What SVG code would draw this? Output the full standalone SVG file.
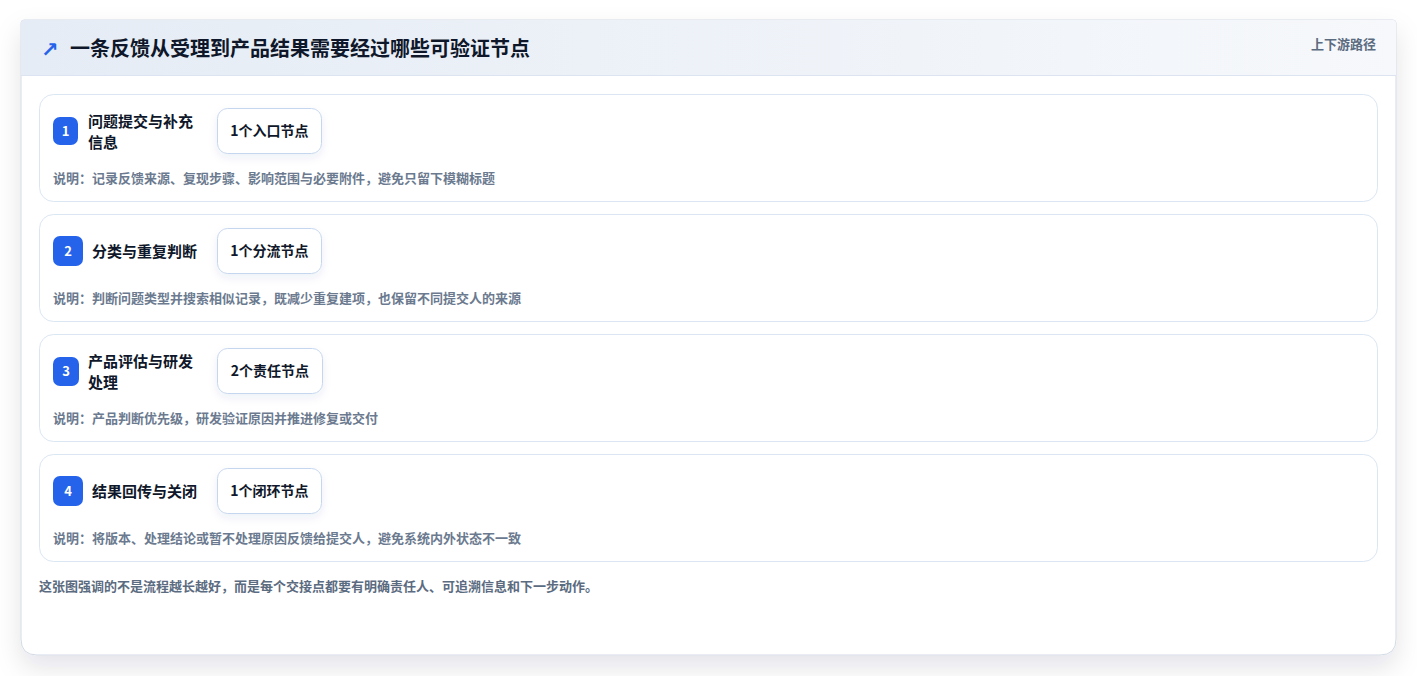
<svg xmlns="http://www.w3.org/2000/svg" width="1417" height="676" viewBox="0 0 1417 676">
<defs>
<linearGradient id="hdr" x1="0" y1="0" x2="1" y2="0">
<stop offset="0" stop-color="#e5ecf5"/>
<stop offset="1" stop-color="#f6f8fb"/>
</linearGradient>
<filter id="cardShadow" x="-5%" y="-8%" width="110%" height="125%">
<feDropShadow dx="0" dy="12" stdDeviation="13" flood-color="#0f172a" flood-opacity="0.11"/>
</filter>
<filter id="pillShadow" x="-20%" y="-30%" width="140%" height="170%">
<feDropShadow dx="0" dy="4" stdDeviation="4" flood-color="#1e3a8a" flood-opacity="0.07"/>
</filter>
</defs>
<style>
text{font-family:"Noto Sans CJK SC","Noto Sans",sans-serif}
.title{font-size:20px;font-weight:700;fill:#0f172a}
.tag{font-size:13px;font-weight:600;fill:#5b6b80}
.row{fill:#ffffff;stroke:#dbe6f3;stroke-width:1}
.badge{fill:#2563eb}
.num{font-size:13px;font-weight:700;fill:#ffffff;text-anchor:middle}
.rt{font-size:15px;font-weight:700;fill:#0f172a}
.pill{fill:#ffffff;stroke:#c5d7ee;stroke-width:1}
.pt{font-size:14px;font-weight:700;fill:#0f172a;text-anchor:middle}
.desc{font-size:13px;font-weight:600;fill:#6b7a8f}
.foot{font-size:13px;font-weight:600;fill:#5b6b80}
</style>
<rect width="1417" height="676" fill="#ffffff"/>
<g id="card">
<path d="M24 20 H1393 Q1396 20 1396 23 V639 Q1396 655 1380 655 H37 Q21 655 21 639 V23 Q21 20 24 20 Z" fill="#ffffff" stroke="#d3dbe6" stroke-width="1" filter="url(#cardShadow)"/>
<path d="M24 20 H1393 Q1396 20 1396 23 V75 H21 V23 Q21 20 24 20 Z" fill="url(#hdr)"/>
<line x1="21" y1="75.5" x2="1396" y2="75.5" stroke="#dbe4f0" stroke-width="1"/>
<text x="41" y="57" font-size="21" font-weight="700" fill="#2563eb" style="font-family:'DejaVu Sans',sans-serif">↗</text>
<text class="title" x="70" y="56">一条反馈从受理到产品结果需要经过哪些可验证节点</text>
<text class="tag" x="1376" y="49" text-anchor="end">上下游路径</text>
</g>
<g id="connectors"></g>
<g id="step1">
<rect class="row" x="39.5" y="94.5" width="1338" height="107" rx="14"/>
<rect class="badge" x="53" y="117" width="25" height="28" rx="7"/>
<text class="num" x="65.5" y="135.5">1</text>
<text class="rt" x="88" y="126.5">问题提交与补充</text>
<text class="rt" x="88" y="147.5">信息</text>
<rect class="pill" x="217.5" y="108.5" width="104" height="45" rx="10" filter="url(#pillShadow)"/>
<text class="pt" x="269.5" y="135.5">1个入口节点</text>
<text class="desc" x="53" y="182.5">说明：记录反馈来源、复现步骤、影响范围与必要附件，避免只留下模糊标题</text>
</g>
<g id="step2">
<rect class="row" x="39.5" y="214.5" width="1338" height="107" rx="14"/>
<rect class="badge" x="53" y="236" width="30" height="30" rx="7"/>
<text class="num" x="68" y="255.5">2</text>
<text class="rt" x="92" y="257">分类与重复判断</text>
<rect class="pill" x="217.5" y="228.5" width="104" height="45" rx="10" filter="url(#pillShadow)"/>
<text class="pt" x="269.5" y="255.5">1个分流节点</text>
<text class="desc" x="53" y="302.5">说明：判断问题类型并搜索相似记录，既减少重复建项，也保留不同提交人的来源</text>
</g>
<g id="step3">
<rect class="row" x="39.5" y="334.5" width="1338" height="107" rx="14"/>
<rect class="badge" x="53" y="357" width="26" height="29" rx="7"/>
<text class="num" x="66" y="375.5">3</text>
<text class="rt" x="88" y="366.5">产品评估与研发</text>
<text class="rt" x="88" y="387.5">处理</text>
<rect class="pill" x="217.5" y="348.5" width="105" height="45" rx="10" filter="url(#pillShadow)"/>
<text class="pt" x="270" y="375.5">2个责任节点</text>
<text class="desc" x="53" y="422.5">说明：产品判断优先级，研发验证原因并推进修复或交付</text>
</g>
<g id="step4">
<rect class="row" x="39.5" y="454.5" width="1338" height="107" rx="14"/>
<rect class="badge" x="53" y="476" width="30" height="30" rx="7"/>
<text class="num" x="68" y="495.5">4</text>
<text class="rt" x="92" y="497">结果回传与关闭</text>
<rect class="pill" x="217.5" y="468.5" width="104" height="45" rx="10" filter="url(#pillShadow)"/>
<text class="pt" x="269.5" y="495.5">1个闭环节点</text>
<text class="desc" x="53" y="542.5">说明：将版本、处理结论或暂不处理原因反馈给提交人，避免系统内外状态不一致</text>
</g>
<g id="footer">
<text class="foot" x="39" y="590.5">这张图强调的不是流程越长越好，而是每个交接点都要有明确责任人、可追溯信息和下一步动作。</text>
</g>
</svg>
